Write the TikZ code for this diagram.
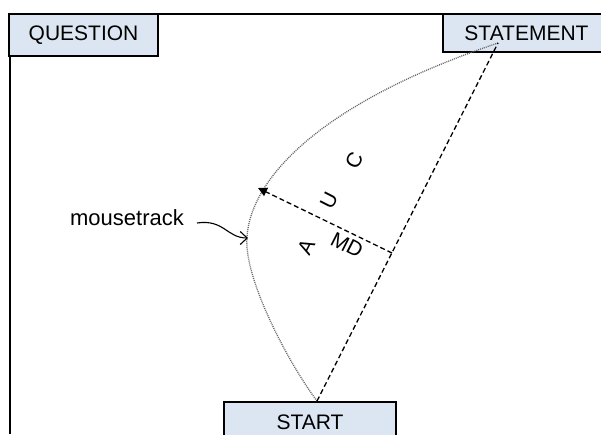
\documentclass[tikz,border=0pt]{standalone}
\usepackage{fontspec}
\setmainfont{Liberation Sans}
\usetikzlibrary{arrows.meta}
\definecolor{boxblue}{RGB}{220,230,242}
\tikzset{phasebox/.style={
    % The shape:
    rectangle,
    inner sep=0pt,
    % The border:
    line width=1.3pt,
    draw=black,
    % The filling:
    fill=boxblue,
    % Font
    font=\fontsize{21}{24}\selectfont
    },
    trackline/.style={
    dash pattern=on 1pt off 1pt,
    line width=1.3pt,
    draw=black!60,
    },
    idealline/.style={
    dash pattern=on 5pt off 3pt,
    line width=1.3pt,
    draw=black,
    },
    auclabel/.style={
    font=\fontsize{21}{24}\selectfont,
    inner sep=0pt,
    rotate=63,
    },
}

\begin{document}
\begin{tikzpicture}[x=1pt,y=-1pt]
    \useasboundingbox (0,0) rectangle (601,434);
    \clip (0,0) rectangle (601,434);
    % frame
    \draw[line width=1.6pt] (10,434) -- (10,14) -- (601,14);

    \node (question)  [phasebox,minimum width=149pt,minimum height=42pt] at (83.5,35)  {QUESTION};
    \node (statement) [phasebox,minimum width=167pt,minimum height=38pt] at (526.5,33) {STATEMENT};
    \node (start)     [phasebox,minimum width=172pt,minimum height=40pt] at (310,422)  {START};

    \coordinate (origin) at (317,401);
    \coordinate (target) at (498,43);
    \coordinate (foot)   at (392,253);
    \coordinate (peak)   at (258,188);
    \coordinate (bend)   at (247,247);

    % actual and ideal trajectories
    \draw[trackline] (origin) .. controls (290,365) and (250,290) .. (bend)
        .. controls (243,190) and (305,108) .. (target);
    \draw[idealline] (origin) -- (target);
    \draw[idealline,-{Triangle[length=9pt,width=9pt]}] (foot) -- (peak);

    \node (mdlabel) [font=\fontsize{21}{24}\selectfont,inner sep=0pt,rotate=-27] at (347,245) {MD};
    \node (auca) [auclabel] at (306,247) {A};
    \node (aucu) [auclabel] at (329,201) {U};
    \node (aucc) [auclabel] at (354,160) {C};

    \node (track) [font=\fontsize{22}{26}\selectfont,anchor=base,inner sep=0pt] at (127,225) {mousetrack};
    \coordinate (tail) at (197,223);
    \coordinate (hit)  at (248,238);
    \draw[line width=1.1pt,-{Straight Barb[length=7pt,width=13pt]}] (tail) .. controls (224,219) and (227,238) .. (hit);
\end{tikzpicture}
\end{document}
